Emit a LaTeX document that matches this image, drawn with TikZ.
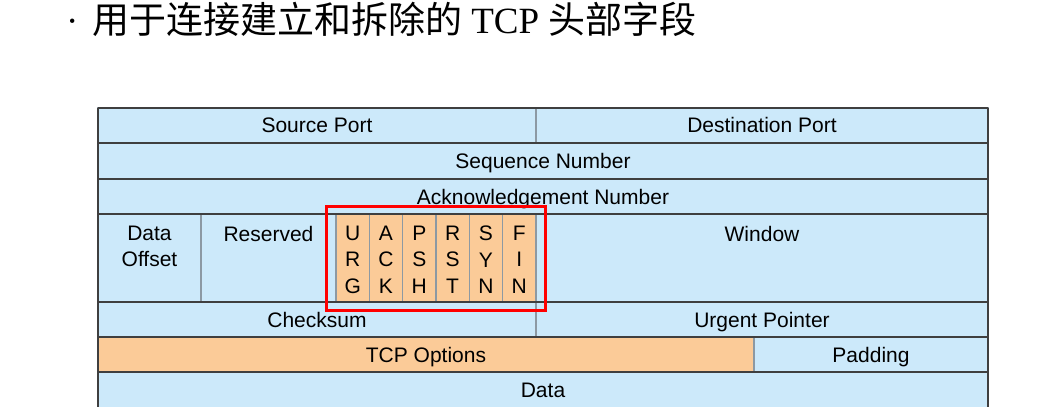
\documentclass[tikz,border=0pt]{standalone}
\usepackage{fontspec}
\setmainfont{Liberation Sans}
\newfontfamily\cjk{Noto Sans CJK SC}
\newfontfamily\titleserif{Liberation Serif}
\usetikzlibrary{positioning, calc, fit}
\definecolor{fieldblue}{HTML}{CCE9FA}
\definecolor{fieldorange}{HTML}{FBCB98}
\definecolor{rowline}{HTML}{3F3F3F}
\definecolor{colline}{HTML}{8C99A3}
\definecolor{markred}{HTML}{FF0000}

\begin{document}
\begin{tikzpicture}[
    x=1pt, y=-1pt,
    every node/.style={font=\fontsize{21}{26.5}\selectfont, inner sep=0pt, outer sep=0pt},
    field/.style={draw=colline, line width=1.2pt, fill=fieldblue, minimum height=35pt, text height=15pt, text depth=0pt},
    flagcell/.style={field, fill=fieldorange, minimum width=33.33pt, minimum height=88pt},
    toptext/.style={anchor=north, align=center},
    rowrule/.style={draw=rowline, line width=1.5pt},
    flagmark/.style={draw=markred, line width=3pt, inner xsep=10pt, inner ysep=8pt}
]
    \useasboundingbox (0,0) rectangle (1056,414);

    % title line
    \node[anchor=base west, font=\fontsize{37}{42}\selectfont] (title) at (66,34)
        {{\titleserif ·}\hspace{14pt}{\cjk 用于连接建立和拆除的}\hspace{9pt}{\titleserif TCP}\hspace{9pt}{\cjk 头部字段}};

    % header rows
    \node[field, minimum width=438pt] (src) at (317,125.5) {Source Port};
    \node[field, minimum width=452pt] (dst) at (762,125.5) {Destination Port};
    \node[field, minimum width=890pt, minimum height=36pt] (seq) at (543,161) {Sequence Number};
    \node[field, minimum width=890pt] (ack) at (543,196.5) {Acknowledgement Number};

    \node[field, minimum width=103pt, minimum height=88pt] (off) at (149.5,258) {};
    \node[field, minimum width=135pt, minimum height=88pt] (rsv) at (268.5,258) {};
    \foreach \f [count=\i] in {{U\\R\\G},{A\\C\\K},{P\\S\\H},{R\\S\\T},{S\\Y\\N},{F\\I\\N}} {
        \node[flagcell] (f\i) at ({336+33.33*(\i-0.5)},258) {};
        \node[toptext] (t\i) at ({336+33.33*(\i-0.5)},226) {\f};
    }
    \node[field, minimum width=452pt, minimum height=88pt] (win) at (762,258) {};
    \node[toptext] (offtxt) at (149.5,226) {Data\\Offset};
    \node[toptext] (rsvtxt) at (268.5,226) {Reserved};
    \node[toptext] (wintxt) at (762,226) {Window};

    \node[field, minimum width=438pt] (chk) at (317,319.5) {Checksum};
    \node[field, minimum width=452pt] (urg) at (762,319.5) {Urgent Pointer};
    \node[field, fill=fieldorange, minimum width=656pt] (opt) at (426,354.5) {TCP Options};
    \node[field, minimum width=234pt] (pad) at (871,354.5) {Padding};
    \node[field, draw=none, minimum width=890pt] (data) at (543,389.5) {Data};

    % dark row rules and outer border
    \draw[rowrule] (src.north west) -- (dst.north east);
    \draw[rowrule] (seq.north west) -- (seq.north east);
    \draw[rowrule] (ack.north west) -- (ack.north east);
    \draw[rowrule] (off.north west) -- (win.north east);
    \draw[rowrule] (chk.north west) -- (urg.north east);
    \draw[rowrule] (opt.north west) -- (pad.north east);
    \draw[rowrule] (data.north west) -- (data.north east);
    \draw[rowrule] (src.north west) -- (data.south west);
    \draw[rowrule] (dst.north east) -- (data.south east);

    % control flags
    \node[flagmark, fit=(f1)(f6)] (mark) {};
\end{tikzpicture}
\end{document}
